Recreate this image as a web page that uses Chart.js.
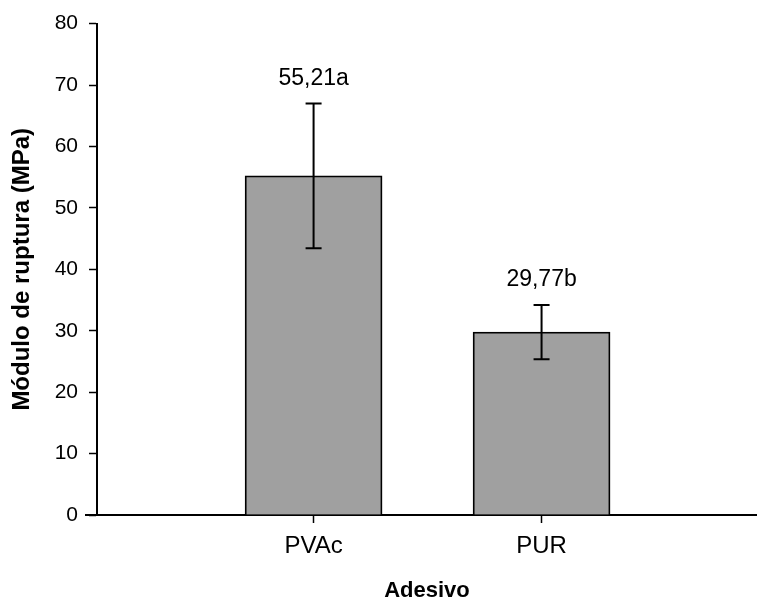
<!DOCTYPE html>
<html>
<head>
<meta charset="utf-8">
<script src="https://cdn.jsdelivr.net/npm/chart.js@4/dist/chart.umd.min.js"></script>
<style>
  body { margin: 0; background: #fff; }
  #wrap { width: 757px; height: 599px; }
</style>
</head>
<body>
<div id="wrap"><canvas id="myChart"></canvas></div>
<script>
const adesivos = ['PVAc', 'PUR'];
const moduloRuptura = [55.21, 29.77];
const desvio = [11.8, 4.4];
const letras = ['a', 'b'];
const yTicks = [0, 10, 20, 30, 40, 50, 60, 70, 80];

const fonte = '"Liberation Sans", Arial, sans-serif';

// barras de erro + rótulos com a letra do teste
const errorBars = {
    id: 'errorBars',
    afterDatasetsDraw(chart) {
        const ctx = chart.ctx;
        const xs = chart.scales.x;
        const ys = chart.scales.y;
        ctx.save();
        ctx.strokeStyle = '#000';
        ctx.lineWidth = 2;
        moduloRuptura.forEach((v, i) => {
            const x = xs.getPixelForValue(i);
            const top = ys.getPixelForValue(v + desvio[i]);
            const bot = ys.getPixelForValue(v - desvio[i]);
            ctx.beginPath();
            ctx.moveTo(x, top); ctx.lineTo(x, bot);
            ctx.moveTo(x - 8, top); ctx.lineTo(x + 8, top);
            ctx.moveTo(x - 8, bot); ctx.lineTo(x + 8, bot);
            ctx.stroke();

            ctx.fillStyle = '#000';
            ctx.font = '23px ' + fonte;
            ctx.textAlign = 'center';
            ctx.textBaseline = 'middle';
            ctx.fillText(v.toFixed(2).replace('.', ',') + letras[i], x, top - 25);
        });
        // prolongamento do eixo x para a esquerda
        const a = chart.chartArea;
        ctx.lineWidth = 2;
        ctx.beginPath();
        ctx.moveTo(a.left - 12, a.bottom);
        ctx.lineTo(a.left, a.bottom);
        ctx.stroke();
        ctx.restore();
    }
};

const ctx = document.getElementById('myChart').getContext('2d');
const myChart = new Chart(ctx, {
    type: 'bar',
    data: {
        datasets: [{
            data: moduloRuptura.map((v, i) => ({ x: i, y: v })),
            backgroundColor: '#a0a0a0',
            borderColor: '#000',
            borderWidth: 1.8,
            barThickness: 137
        }]
    },
    options: {
        responsive: true,
        maintainAspectRatio: false,
        animation: false,
        layout: { padding: { top: 23, left: 0, right: 0, bottom: 0 } },
        plugins: {
            legend: { display: false },
            tooltip: { enabled: false }
        },
        scales: {
            x: {
                type: 'linear',
                offset: false,
                min: -0.95,
                max: 1.945,
                afterBuildTicks: (scale) => { scale.ticks = adesivos.map((c, i) => ({ value: i })); },
                afterFit: (scale) => { scale.height = 84; },
                ticks: {
                    callback: (value) => adesivos[value],
                    color: '#000',
                    font: { family: fonte, size: 24 },
                    padding: 9
                },
                grid: { offset: false, drawOnChartArea: false, drawTicks: true, tickLength: 8, tickColor: '#000', tickWidth: 1.5 },
                border: { display: true, color: '#000', width: 2 },
                title: {
                    display: true,
                    text: 'Adesivo',
                    color: '#000',
                    font: { family: fonte, size: 22, weight: 'bold', lineHeight: 1 },
                    padding: { top: 0, bottom: -3 }
                }
            },
            y: {
                min: 0,
                max: 80,
                afterBuildTicks: (scale) => { scale.ticks = yTicks.map(v => ({ value: v })); },
                afterFit: (scale) => { scale.width = 97; },
                ticks: {
                    color: '#000',
                    font: { family: fonte, size: 21 },
                    padding: 11
                },
                grid: { drawOnChartArea: false, drawTicks: true, tickLength: 8, tickColor: '#000', tickWidth: 1.5 },
                border: { display: true, color: '#000', width: 2 },
                title: {
                    display: true,
                    text: 'Módulo de ruptura (MPa)',
                    color: '#000',
                    font: { family: fonte, size: 24, weight: 'bold' },
                    padding: { top: 8, bottom: 0 }
                }
            }
        }
    },
    plugins: [errorBars]
});
</script>
</body>
</html>
